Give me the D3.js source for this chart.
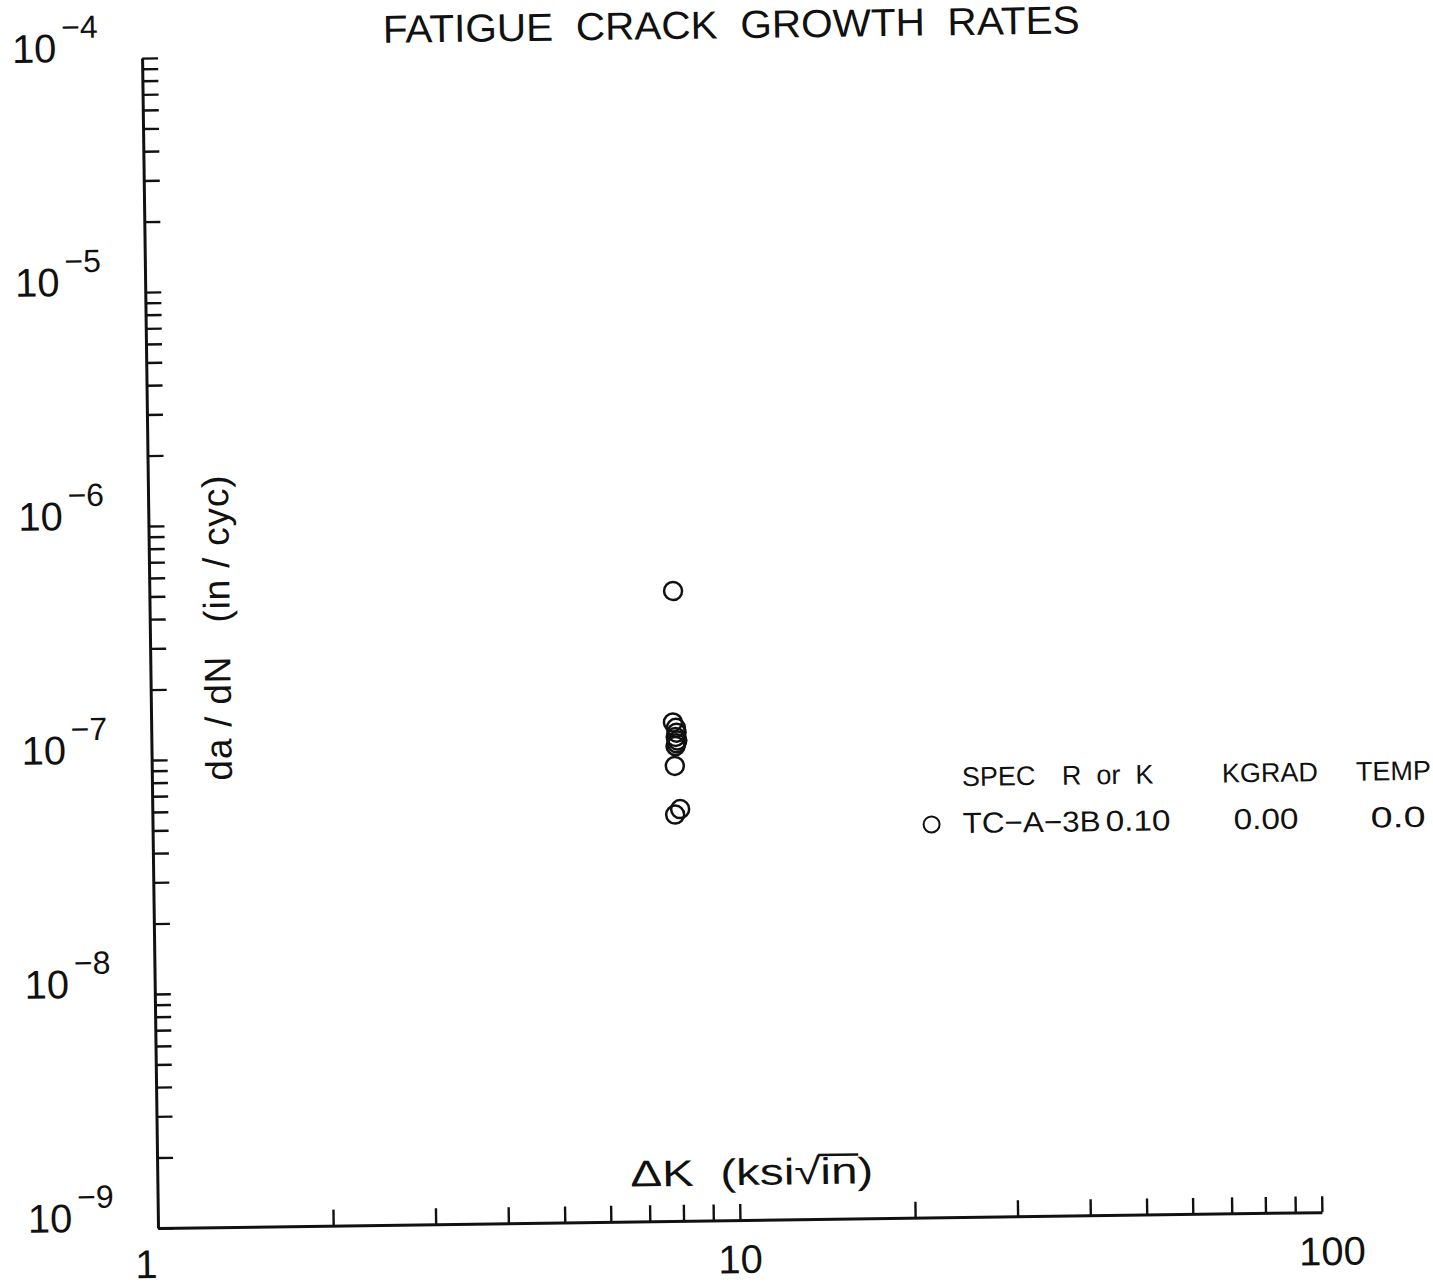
<!DOCTYPE html>
<html lang="en">
<head>
<meta charset="utf-8">
<title>Fatigue Crack Growth Rates</title>
<script src="https://d3js.org/d3.v7.min.js"></script>
<style>
  body { margin: 0; background: #fff; }
  svg { display: block; }
  text { font-family: "Liberation Sans", Arial, sans-serif; fill: #111; white-space: pre; }
  .axis path, .axis line { stroke: #111; }
  .axis path { stroke-width: 3; fill: none; }
  .axis line { stroke-width: 2.4; }
</style>
</head>
<body>
<svg id="chart" width="1433" height="1287"></svg>
<script>
// delta K (ksi sqrt(in)) and da/dN (in/cyc) for specimen TC-A-3B
var deltaK = [7.94, 7.88, 7.97, 7.99, 7.96, 8.01, 7.98, 7.95, 7.92, 7.91, 8.07];
var dadN   = [4.92e-7, 1.35e-7, 1.28e-7, 1.22e-7, 1.17e-7, 1.13e-7, 1.10e-7, 1.07e-7, 8.8e-8, 5.45e-8, 5.75e-8];

var xLabelValues = [1, 10, 100];
var yExponents = [-9, -8, -7, -6, -5, -4];

var legendHeader = ['SPEC', 'R  or  K', 'KGRAD', 'TEMP'];
var legendRow = ['TC\u2212A\u22123B', '0.10', '0.00', '0.0'];

// layout (the scanned page is slightly rotated)
var originX = 158, originY = 1228, tilt = -0.78;
var plotW = 1164, plotH = 1170;

var svg = d3.select('#chart');
var g = svg.append('g')
  .attr('transform', 'translate(' + originX + ',' + originY + ') rotate(' + tilt + ')');

var x = d3.scaleLog().domain([1, 100]).range([0, plotW]);
var y = d3.scaleLog().domain([1e-9, 1e-4]).range([0, -plotH]);

// minor + major tick values
var xTickVals = [];
[1, 10].forEach(function(dec) {
  d3.range(2, 11).forEach(function(m) { xTickVals.push(m * dec); });
});
var yTickVals = [];
d3.range(-9, -4).forEach(function(e) {
  d3.range(1, 10).forEach(function(m) { yTickVals.push(m * Math.pow(10, e)); });
});
yTickVals.push(1e-4);

g.append('g')
  .attr('class', 'axis')
  .call(d3.axisTop(x).tickValues(xTickVals).tickSize(16).tickSizeOuter(0).tickFormat(''));

g.append('g')
  .attr('class', 'axis')
  .call(d3.axisRight(y).tickValues(yTickVals).tickSize(16).tickSizeOuter(0).tickFormat(''));

// x tick labels
g.selectAll('.xlab')
  .data(xLabelValues)
  .enter()
  .append('text')
  .attr('class', 'xlab')
  .attr('x', function(d) { return x(d) + (d === 1 ? -12 : d === 100 ? 10 : 0); })
  .attr('y', function(d) { return d === 1 ? 50 : 53; })
  .attr('text-anchor', 'middle')
  .style('font-size', '40px')
  .text(function(d) { return d; });

// y tick labels 10^n
var ylab = g.selectAll('.ylab')
  .data(yExponents)
  .enter()
  .append('text')
  .attr('class', 'ylab')
  .attr('x', -130)
  .attr('y', function(d) { return y(Math.pow(10, d)) + 3; })
  .style('font-size', '40px');
ylab.append('tspan').text('10');
ylab.append('tspan')
  .attr('dx', 5)
  .attr('dy', -24)
  .style('font-size', '32px')
  .text(function(d) { return '\u2212' + Math.abs(d); });

// title
g.append('text')
  .attr('x', 241)
  .attr('y', -1182)
  .attr('textLength', 697)
  .attr('lengthAdjust', 'spacingAndGlyphs')
  .style('font-size', '39px')
  .text('FATIGUE  CRACK  GROWTH  RATES');

// axis titles
var xt = g.append('text')
  .attr('x', 625 - originX + 6)
  .attr('y', -35)
  .attr('textLength', 243)
  .attr('lengthAdjust', 'spacingAndGlyphs')
  .style('font-size', '37px')
  .text('\u0394K  (ksi\u221Ain)');
// bar of the square root over "in"
var xtNode = xt.node();
var nChars = xtNode.getNumberOfChars();
var barStart = xtNode.getStartPositionOfChar(nChars - 3);
var barEnd = xtNode.getEndPositionOfChar(nChars - 2);
g.append('line')
  .attr('x1', barStart.x - 2)
  .attr('x2', barEnd.x + 1)
  .attr('y1', -35 - 29)
  .attr('y2', -35 - 29)
  .attr('stroke', '#111')
  .attr('stroke-width', 2.4);

g.append('text')
  .attr('transform', 'translate(80,-599) rotate(-90)')
  .attr('text-anchor', 'middle')
  .attr('textLength', 305)
  .style('font-size', '37px')
  .text('da / dN   (in / cyc)');

// data points
g.selectAll('circle.pt')
  .data(deltaK)
  .enter()
  .append('circle')
  .attr('class', 'pt')
  .attr('cx', function(d) { return x(d); })
  .attr('cy', function(d, i) { return y(dadN[i]); })
  .attr('r', 9)
  .attr('fill', 'none')
  .attr('stroke', '#111')
  .attr('stroke-width', 2.5);

// legend
var headerX = [810, 910, 1070, 1204];
var rowX = [810, 953, 1081, 1218];
var rowW = [138, 65, 65, 55];
g.selectAll('.lh')
  .data(legendHeader)
  .enter()
  .append('text')
  .attr('class', 'lh')
  .attr('x', function(d, i) { return headerX[i]; })
  .attr('y', -431)
  .style('font-size', '27px')
  .text(function(d) { return d; });
g.selectAll('.lr')
  .data(legendRow)
  .enter()
  .append('text')
  .attr('class', 'lr')
  .attr('x', function(d, i) { return rowX[i]; })
  .attr('y', -384)
  .attr('textLength', function(d, i) { return rowW[i]; })
  .attr('lengthAdjust', 'spacingAndGlyphs')
  .style('font-size', '29px')
  .text(function(d) { return d; });
g.append('circle')
  .attr('cx', 779)
  .attr('cy', -393)
  .attr('r', 8)
  .attr('fill', 'none')
  .attr('stroke', '#111')
  .attr('stroke-width', 2);
</script>
</body>
</html>
